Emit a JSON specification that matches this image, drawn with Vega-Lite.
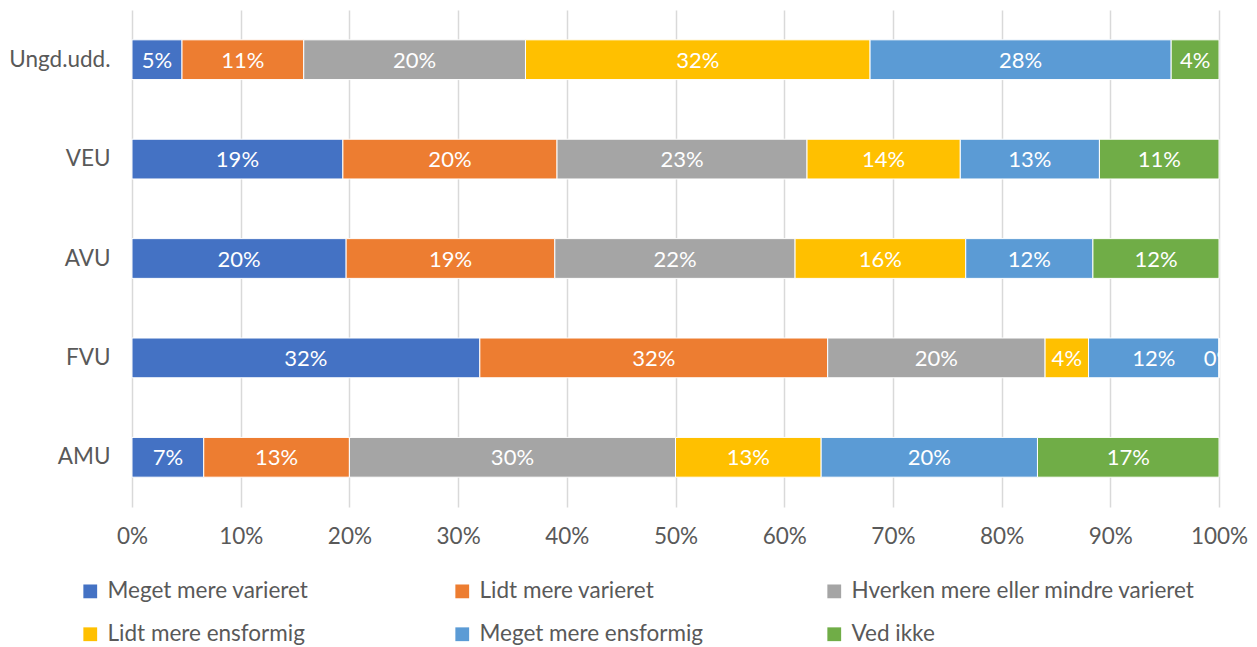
{
  "$schema": "https://vega.github.io/schema/vega-lite/v6.json",
  "autosize": {"type": "none"},
  "width": 1087,
  "height": 497,
  "padding": {"left": 132, "top": 10, "right": 38, "bottom": 140},
  "background": "white",
  "config": {
    "font": "Lato",
    "view": {"stroke": null},
    "axis": {"labelFont": "Lato", "labelColor": "#595959", "labelFontSize": 22.5, "domain": false, "ticks": false}
  },
  "data": {
    "values": [
      {"group": "Ungd.udd.", "answer": "Meget mere varieret", "o": 1, "share": 0.046},
      {"group": "Ungd.udd.", "answer": "Lidt mere varieret", "o": 2, "share": 0.112},
      {"group": "Ungd.udd.", "answer": "Hverken mere eller mindre varieret", "o": 3, "share": 0.204},
      {"group": "Ungd.udd.", "answer": "Lidt mere ensformig", "o": 4, "share": 0.317},
      {"group": "Ungd.udd.", "answer": "Meget mere ensformig", "o": 5, "share": 0.277},
      {"group": "Ungd.udd.", "answer": "Ved ikke", "o": 6, "share": 0.044},
      {"group": "VEU", "answer": "Meget mere varieret", "o": 1, "share": 0.194},
      {"group": "VEU", "answer": "Lidt mere varieret", "o": 2, "share": 0.197},
      {"group": "VEU", "answer": "Hverken mere eller mindre varieret", "o": 3, "share": 0.230},
      {"group": "VEU", "answer": "Lidt mere ensformig", "o": 4, "share": 0.141},
      {"group": "VEU", "answer": "Meget mere ensformig", "o": 5, "share": 0.128},
      {"group": "VEU", "answer": "Ved ikke", "o": 6, "share": 0.110},
      {"group": "AVU", "answer": "Meget mere varieret", "o": 1, "share": 0.197},
      {"group": "AVU", "answer": "Lidt mere varieret", "o": 2, "share": 0.192},
      {"group": "AVU", "answer": "Hverken mere eller mindre varieret", "o": 3, "share": 0.221},
      {"group": "AVU", "answer": "Lidt mere ensformig", "o": 4, "share": 0.157},
      {"group": "AVU", "answer": "Meget mere ensformig", "o": 5, "share": 0.117},
      {"group": "AVU", "answer": "Ved ikke", "o": 6, "share": 0.116},
      {"group": "FVU", "answer": "Meget mere varieret", "o": 1, "share": 0.320},
      {"group": "FVU", "answer": "Lidt mere varieret", "o": 2, "share": 0.320},
      {"group": "FVU", "answer": "Hverken mere eller mindre varieret", "o": 3, "share": 0.200},
      {"group": "FVU", "answer": "Lidt mere ensformig", "o": 4, "share": 0.040},
      {"group": "FVU", "answer": "Meget mere ensformig", "o": 5, "share": 0.120},
      {"group": "FVU", "answer": "Ved ikke", "o": 6, "share": 0.0},
      {"group": "AMU", "answer": "Meget mere varieret", "o": 1, "share": 0.066},
      {"group": "AMU", "answer": "Lidt mere varieret", "o": 2, "share": 0.134},
      {"group": "AMU", "answer": "Hverken mere eller mindre varieret", "o": 3, "share": 0.300},
      {"group": "AMU", "answer": "Lidt mere ensformig", "o": 4, "share": 0.134},
      {"group": "AMU", "answer": "Meget mere ensformig", "o": 5, "share": 0.199},
      {"group": "AMU", "answer": "Ved ikke", "o": 6, "share": 0.167}
    ]
  },
  "encoding": {
    "y": {
      "field": "group", "type": "nominal", "title": null,
      "sort": ["Ungd.udd.", "VEU", "AVU", "FVU", "AMU"],
      "scale": {"paddingInner": 0.6, "paddingOuter": 0.3},
      "axis": {"labelPadding": 22, "grid": false}
    },
    "order": {"field": "o", "type": "quantitative"}
  },
  "layer": [
    {
      "mark": {"type": "bar", "stroke": "white", "strokeWidth": 1},
      "encoding": {
        "x": {
          "field": "share", "type": "quantitative", "stack": "zero", "title": null,
          "scale": {"domain": [0, 1], "nice": false},
          "axis": {"format": ".0%", "values": [0, 0.1, 0.2, 0.3, 0.4, 0.5, 0.6, 0.7, 0.8, 0.9, 1], "grid": true, "gridColor": "#D9D9D9", "gridWidth": 1.5, "labelPadding": 18, "labelFlush": false, "labelOverlap": false}
        },
        "color": {
          "field": "answer", "type": "nominal",
          "scale": {
            "domain": ["Meget mere varieret", "Lidt mere varieret", "Hverken mere eller mindre varieret", "Lidt mere ensformig", "Meget mere ensformig", "Ved ikke"],
            "range": ["#4472C4", "#ED7D31", "#A5A5A5", "#FFC000", "#5B9BD5", "#70AD47"]
          },
          "legend": {
            "title": null, "orient": "none", "legendX": -53, "legendY": 570,
            "direction": "horizontal", "columns": 3, "padding": 0, "gridAlign": "all",
            "columnPadding": -5, "rowPadding": 20,
            "symbolType": "square", "symbolSize": 190, "symbolStrokeWidth": 0,
            "labelFont": "Lato", "labelFontSize": 22.5, "labelColor": "#595959", "labelOffset": 6, "labelLimit": 400
          }
        }
      }
    },
    {
      "mark": {"type": "text", "color": "white", "fontSize": 22, "font": "Lato", "align": "center", "baseline": "middle", "dy": 1, "clip": true},
      "encoding": {
        "x": {"field": "share", "type": "quantitative", "stack": "zero", "bandPosition": 0.5},
        "text": {"field": "share", "type": "quantitative", "format": ".0%"}
      }
    }
  ]
}
